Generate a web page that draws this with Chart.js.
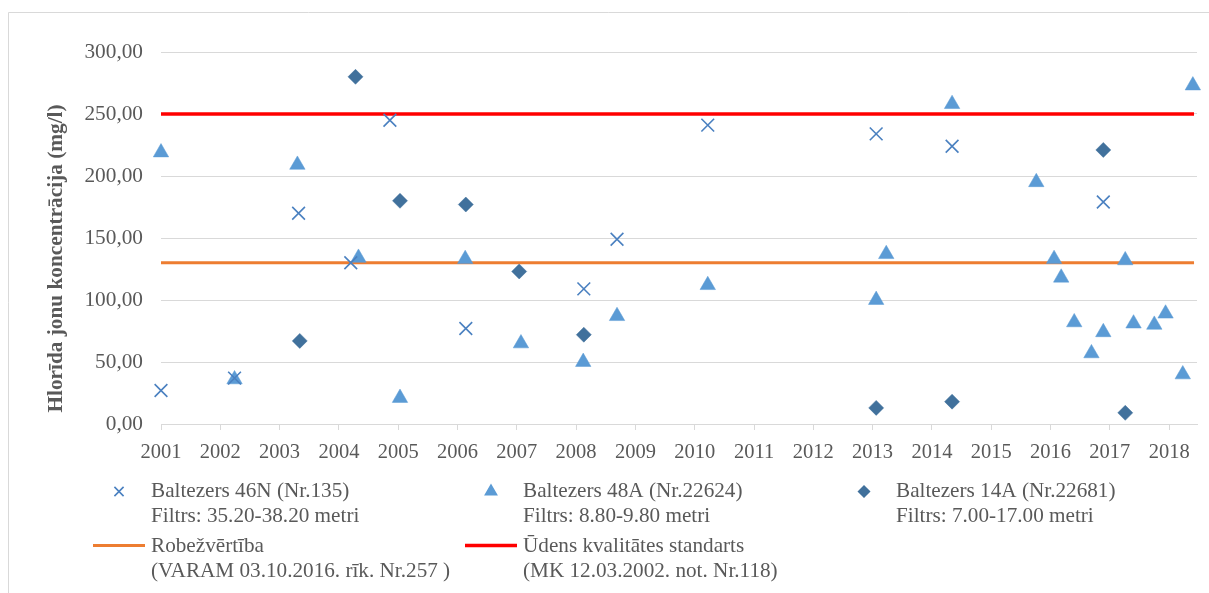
<!DOCTYPE html>
<html>
<head>
<meta charset="utf-8">
<script src="https://cdn.jsdelivr.net/npm/chart.js@4"></script>
<style>
html,body{margin:0;padding:0;background:#fff;overflow:hidden;}
#wrap{position:relative;width:1209px;height:593px;}
</style>
</head>
<body>
<div id="wrap"><canvas id="c" width="1209" height="593"></canvas></div>
<script>
// ---- data ----
const yearTicks = [2001,2002,2003,2004,2005,2006,2007,2008,2009,2010,2011,2012,2013,2014,2015,2016,2017,2018];
const yTicks = [0,50,100,150,200,250,300];

const s46N_x = [2001.0, 2002.24, 2003.32, 2004.2, 2004.86, 2006.14, 2008.13, 2008.69, 2010.22, 2013.06, 2014.34, 2016.89];
const s46N_y = [27, 37, 170, 130, 245, 77, 109, 149, 241, 234, 224, 179];

const s48A_x = [2001.0, 2002.24, 2003.3, 2004.33, 2005.03, 2006.13, 2007.07, 2008.12, 2008.69, 2010.22, 2013.06, 2013.23, 2014.34, 2015.76, 2016.06, 2016.18, 2016.4, 2016.69, 2016.89, 2017.26, 2017.4, 2017.75, 2017.94, 2018.23, 2018.4];
const s48A_y = [219, 36, 209, 134, 21, 133, 65, 50, 87, 112, 100, 137, 258, 195, 133, 118, 82, 57, 74, 132, 81, 80, 89, 40, 273];

const s14A_x = [2003.34, 2004.28, 2005.03, 2006.14, 2007.04, 2008.13, 2013.06, 2014.34, 2016.89, 2017.26];
const s14A_y = [67, 280, 180, 177, 123, 72, 13, 18, 221, 9];

const limitX = [2001, 2018.42];
const robezValue = 130;
const standardValue = 250;

const seriesLabels = [
  ['Baltezers 46N (Nr.135)', 'Filtrs: 35.20-38.20 metri'],
  ['Baltezers 48A (Nr.22624)', 'Filtrs: 8.80-9.80 metri'],
  ['Baltezers 14A (Nr.22681)', 'Filtrs: 7.00-17.00 metri'],
  ['Robežvērtība', '(VARAM 03.10.2016. rīk. Nr.257 )'],
  ['Ūdens kvalitātes standarts', '(MK 12.03.2002. not. Nr.118)']
];
const yAxisTitle = 'Hlorīda jonu koncentrācija (mg/l)';

// ---- build ----
const pts = (xs, ys) => xs.map((x, i) => ({x: x, y: ys[i]}));
const FONT = '"Liberation Serif", "Times New Roman", serif';
const TXT = '#595959';

const datasets = [
  {label: seriesLabels[0][0], data: pts(s46N_x, s46N_y), pointStyle: 'crossRot', pointRadius: 9,
   borderColor: '#4a80c0', backgroundColor: '#4a80c0', pointBorderWidth: 1.6, showLine: false, clip: false, order: 1},
  {label: seriesLabels[1][0], data: pts(s48A_x, s48A_y), pointStyle: 'triangle', pointRadius: 8.9,
   borderColor: '#5B9BD5', backgroundColor: '#5B9BD5', pointBorderWidth: 0.5, showLine: false, clip: false, order: 1},
  {label: seriesLabels[2][0], data: pts(s14A_x, s14A_y), pointStyle: 'rectRot', pointRadius: 7.5,
   borderColor: '#41719C', backgroundColor: '#41719C', pointBorderWidth: 0.5, showLine: false, clip: false, order: 1},
  {label: seriesLabels[3][0], data: limitX.map(x => ({x: x, y: robezValue})), showLine: true,
   borderColor: '#ED7D31', backgroundColor: '#ED7D31', borderWidth: 3, pointRadius: 0, clip: false, order: 2},
  {label: seriesLabels[4][0], data: limitX.map(x => ({x: x, y: standardValue})), showLine: true,
   borderColor: '#FF0000', backgroundColor: '#FF0000', borderWidth: 3.5, pointRadius: 0, clip: false, order: 2}
];

const framePlugin = {
  id: 'frame',
  beforeDraw(chart) {
    const ctx = chart.ctx;
    ctx.save();
    ctx.fillStyle = '#fff';
    ctx.fillRect(0, 0, chart.width, chart.height);
    ctx.strokeStyle = '#d9d9d9';
    ctx.lineWidth = 1;
    ctx.beginPath();
    ctx.moveTo(8.5, chart.height);
    ctx.lineTo(8.5, 12.5);
    ctx.lineTo(chart.width, 12.5);
    ctx.stroke();
    ctx.restore();
  }
};

const titlePlugin = {
  id: 'yTitle',
  afterDraw(chart) {
    const ctx = chart.ctx;
    ctx.save();
    ctx.translate(56, 258.5);
    ctx.rotate(-Math.PI / 2);
    ctx.font = 'bold 21.3px ' + FONT;
    ctx.fillStyle = TXT;
    ctx.textAlign = 'center';
    ctx.textBaseline = 'middle';
    ctx.fillText(yAxisTitle, 0, 0);
    ctx.restore();
  }
};

const legendPlugin = {
  id: 'multiLegend',
  afterDraw(chart) {
    const ctx = chart.ctx;
    const colX = [151, 523, 896];
    const rowY = [491.5, 546.5];
    const lineGap = 24.5;
    ctx.save();
    chart.data.datasets.forEach((ds, i) => {
      const tx = colX[i % 3];
      const ty = rowY[Math.floor(i / 3)];
      if (ds.showLine) {
        ctx.strokeStyle = ds.borderColor;
        ctx.lineWidth = ds.borderWidth;
        ctx.beginPath();
        ctx.moveTo(tx - 58, ty - 1);
        ctx.lineTo(tx - 6, ty - 1);
        ctx.stroke();
      } else {
        ctx.fillStyle = ds.backgroundColor;
        ctx.strokeStyle = ds.borderColor;
        Chart.helpers.drawPoint(ctx, {
          pointStyle: ds.pointStyle,
          radius: ds.pointRadius * 0.72,
          borderWidth: ds.pointBorderWidth,
          rotation: 0
        }, tx - 32, ty);
      }
      ctx.font = '21.2px ' + FONT;
      ctx.fillStyle = TXT;
      ctx.textAlign = 'left';
      ctx.textBaseline = 'middle';
      seriesLabels[i].forEach((line, k) => ctx.fillText(line, tx, ty + k * lineGap));
    });
    ctx.restore();
  }
};

new Chart(document.getElementById('c'), {
  type: 'scatter',
  data: {datasets: datasets},
  options: {
    responsive: false,
    animation: false,
    devicePixelRatio: 1,
    layout: {padding: {top: 52, right: 12, bottom: 129, left: 0}},
    plugins: {legend: {display: false}, tooltip: {enabled: false}},
    scales: {
      x: {
        type: 'linear', min: 2001, max: 2018.47,
        afterBuildTicks: s => { s.ticks = yearTicks.map(v => ({value: v})); },
        afterFit: s => { s.height = 40; },
        ticks: {font: {family: FONT, size: 20.5}, color: TXT, padding: 10, maxRotation: 0, autoSkip: false,
                callback: v => String(v)},
        grid: {display: true, drawOnChartArea: false, drawTicks: true, tickLength: 6, color: '#d9d9d9', lineWidth: 1},
        border: {display: true, color: '#d9d9d9', width: 1}
      },
      y: {
        type: 'linear', min: 0, max: 300,
        afterBuildTicks: s => { s.ticks = yTicks.map(v => ({value: v})); },
        afterFit: s => { s.width = 161; },
        ticks: {font: {family: FONT, size: 21.3}, color: TXT, padding: 18,
                callback: v => Number(v).toFixed(2).replace('.', ',')},
        grid: {display: true, drawTicks: false, color: '#d9d9d9', lineWidth: 1},
        border: {display: false}
      }
    }
  },
  plugins: [framePlugin, titlePlugin, legendPlugin]
});
</script>
</body>
</html>
